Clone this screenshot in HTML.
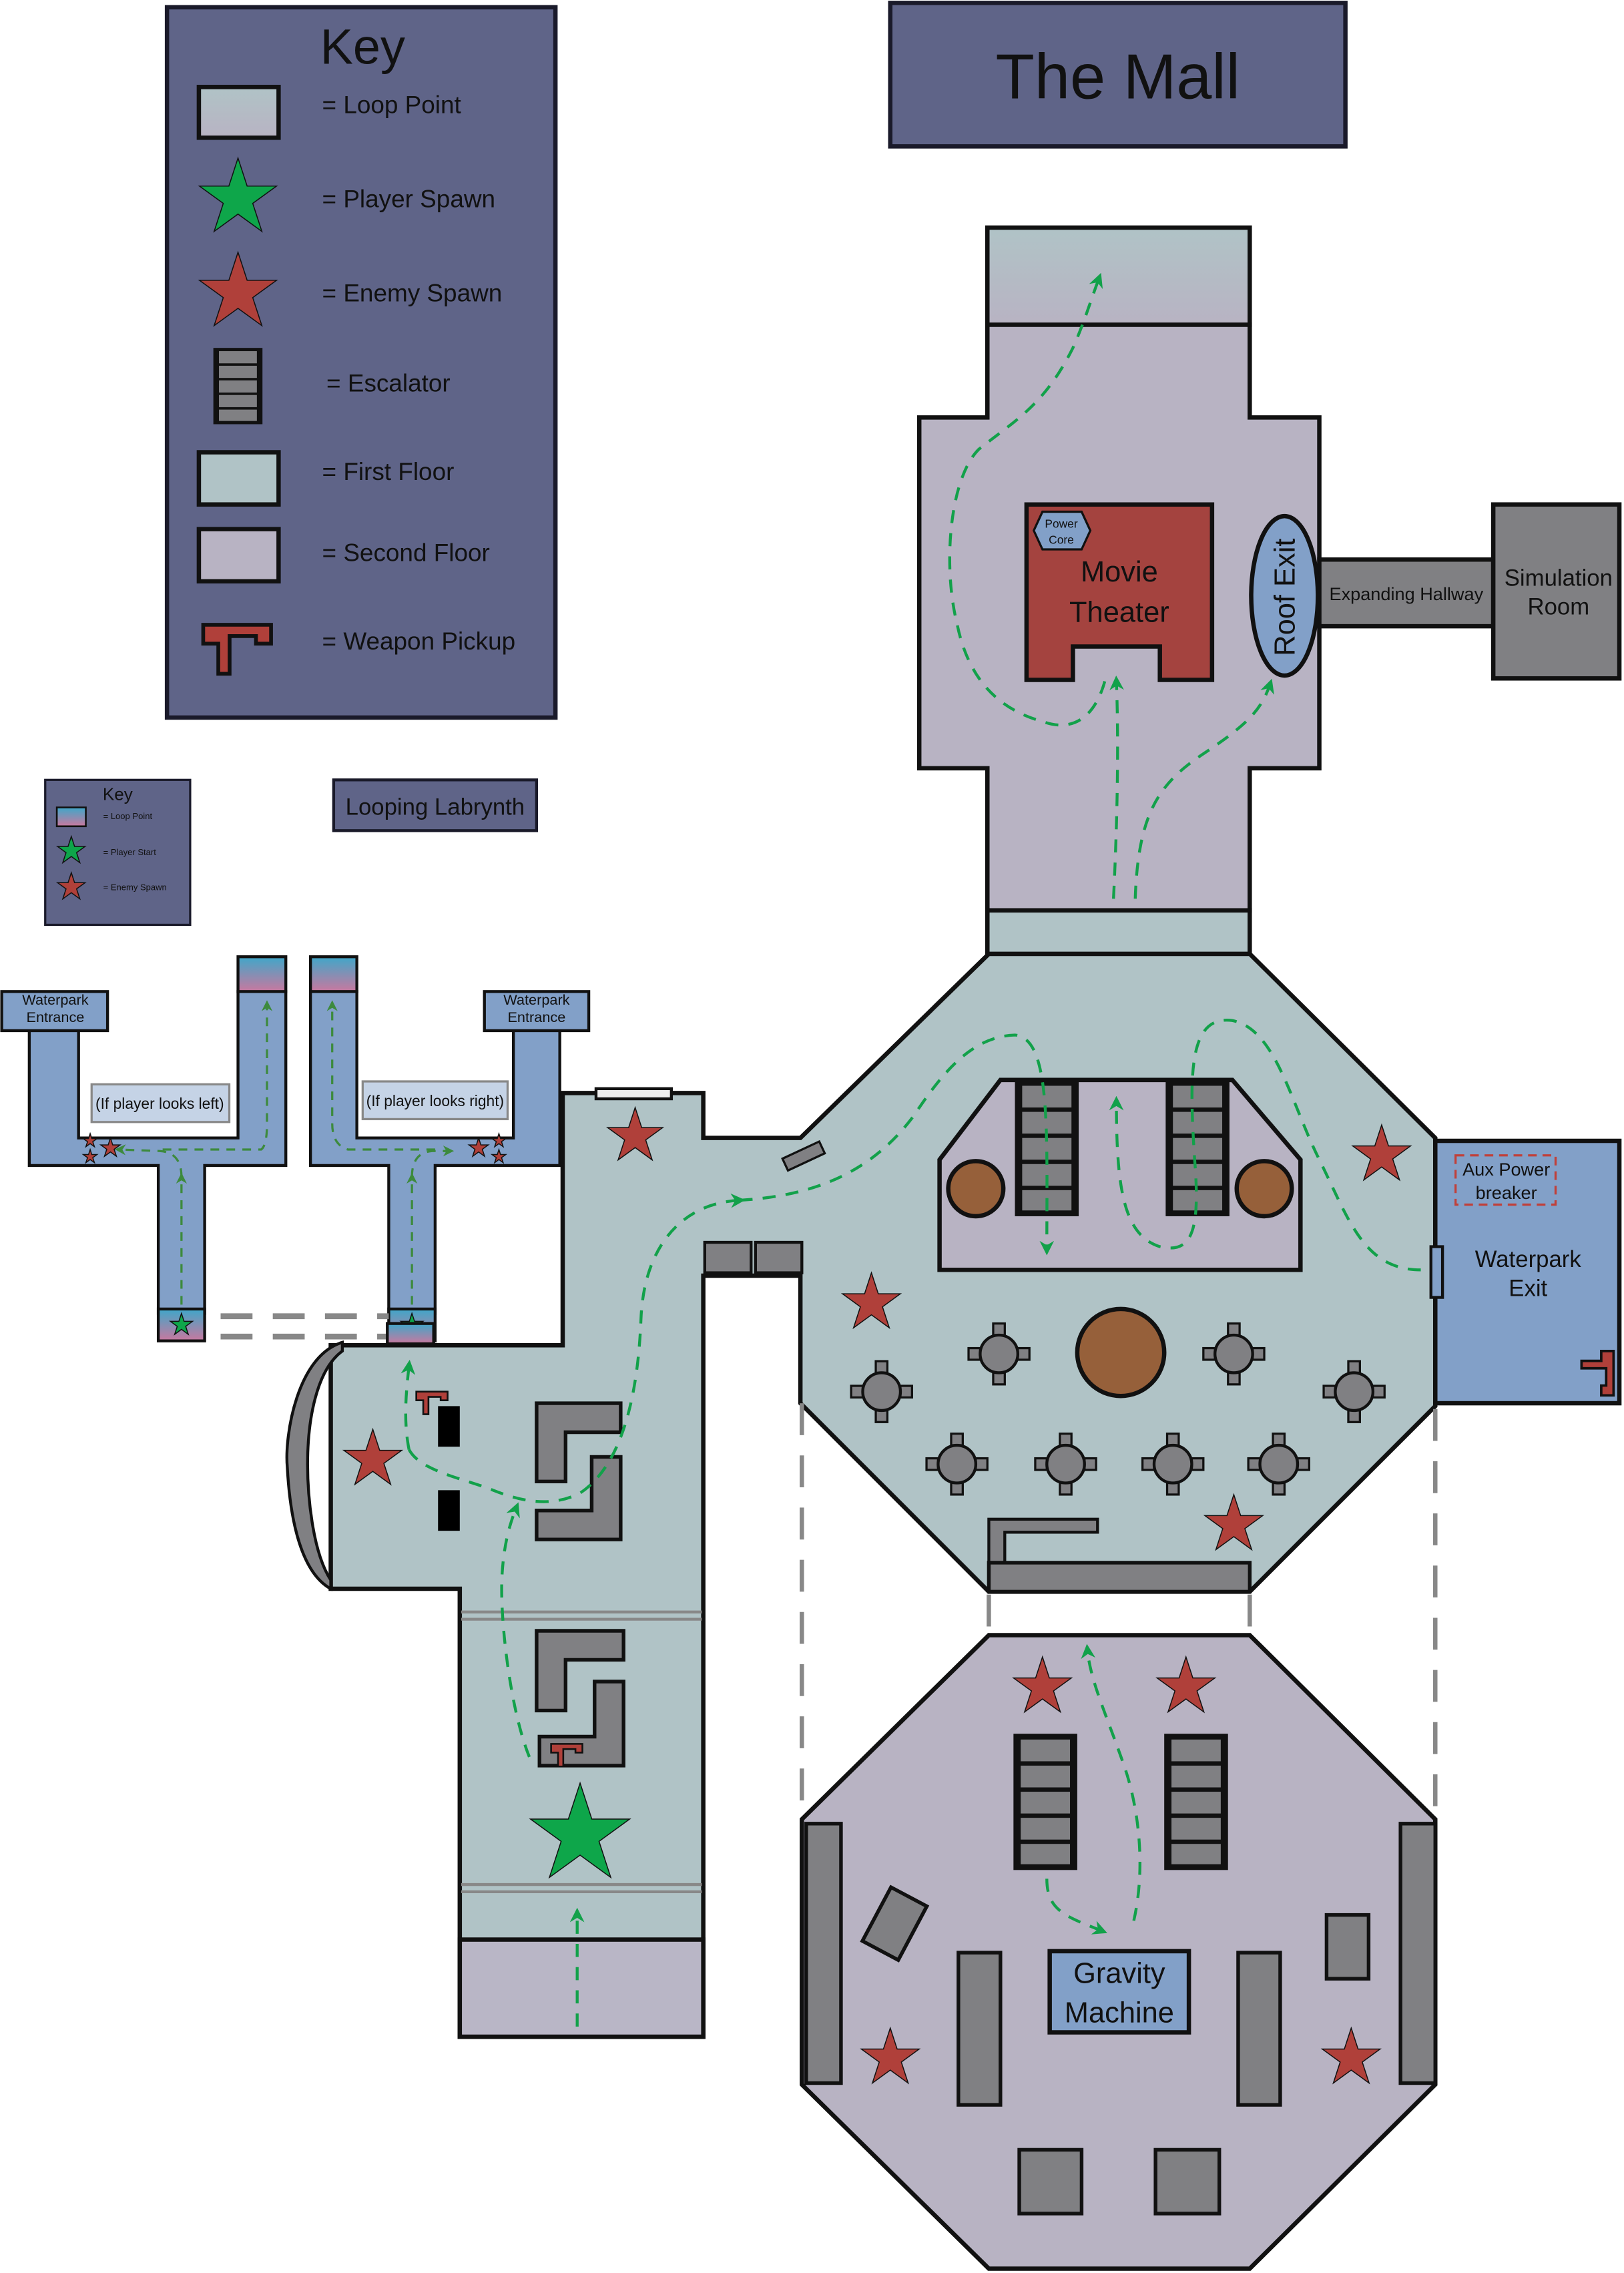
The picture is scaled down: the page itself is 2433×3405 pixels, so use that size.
<!DOCTYPE html>
<html><head><meta charset="utf-8"><style>html,body{margin:0;padding:0;background:#fff}svg{display:block}text{font-family:"Liberation Sans",sans-serif;fill:#111}</style></head><body>
<svg width="2433" height="3405" viewBox="0 0 1120 1568" xmlns="http://www.w3.org/2000/svg">
<defs>
<polygon id="st" points="0,-1 0.225,-0.309 0.951,-0.309 0.363,0.118 0.588,0.809 0,0.382 -0.588,0.809 -0.363,0.118 -0.951,-0.309 -0.225,-0.309" vector-effect="non-scaling-stroke" stroke="#111" stroke-width="1.5"/>
<linearGradient id="lp" x1="0" y1="0" x2="0" y2="1"><stop offset="0" stop-color="#3fa7c9"/><stop offset="1" stop-color="#c9789f"/></linearGradient>
<linearGradient id="lp2" x1="0" y1="0" x2="0" y2="1"><stop offset="0" stop-color="#b0c3c6"/><stop offset="1" stop-color="#b8b3c3"/></linearGradient>
<marker id="ar" viewBox="0 0 10 10" refX="6" refY="5" markerWidth="5" markerHeight="5" orient="auto"><path d="M0,0 L10,5 L0,10 L3,5 Z" fill="#12a14a"/></marker>
<marker id="ar2" viewBox="0 0 10 10" refX="6" refY="5" markerWidth="5" markerHeight="5" orient="auto"><path d="M0,0 L10,5 L0,10 L3,5 Z" fill="#3d8a3d"/></marker>
<g id="tb"><rect x="-21" y="-4" width="8" height="8" fill="#808083" stroke="#111" stroke-width="1.5"/><rect x="13" y="-4" width="8" height="8" fill="#808083" stroke="#111" stroke-width="1.5"/><rect x="-4" y="-21" width="8" height="8" fill="#808083" stroke="#111" stroke-width="1.5"/><rect x="-4" y="13" width="8" height="8" fill="#808083" stroke="#111" stroke-width="1.5"/><circle r="13" fill="#808083" stroke="#111" stroke-width="2"/></g>
<g id="es"><rect x="0" y="0" width="44" height="94" fill="#111"/><rect x="5" y="4" width="34" height="15" fill="#808083"/><rect x="5" y="22" width="34" height="15" fill="#808083"/><rect x="5" y="40" width="34" height="15" fill="#808083"/><rect x="5" y="58" width="34" height="15" fill="#808083"/><rect x="5" y="76" width="34" height="14" fill="#808083"/></g>
<path id="wp" d="M0,0 H36 V10 H28 V6 H14 V26 H8 V10 H0 Z" fill="#b0403a" stroke="#111" stroke-width="2"/>
</defs>
<g stroke="#1a1a2a" stroke-width="3">
<!-- Key -->
<rect x="115" y="5" width="268" height="490" fill="#5f6488"/>
<rect x="614" y="2" width="314" height="99" fill="#5f6488"/>
<rect x="31" y="538" width="100" height="100" fill="#5f6488" stroke-width="1.5"/>
<rect x="230" y="538" width="140" height="35" fill="#5f6488" stroke-width="2"/>
</g>
<text x="250" y="44" font-size="34" text-anchor="middle">Key</text>
<rect x="137" y="60" width="55" height="35" fill="url(#lp2)" stroke="#111" stroke-width="3"/>
<text x="222" y="78" font-size="17">= Loop Point</text>
<use href="#st" transform="translate(164,137) scale(28)" fill="#0ea64a"/>
<text x="222" y="143" font-size="17">= Player Spawn</text>
<use href="#st" transform="translate(164,202) scale(28)" fill="#b0403a"/>
<text x="222" y="208" font-size="17">= Enemy Spawn</text>
<g transform="translate(147,240) scale(0.77,0.56)"><use href="#es"/></g>
<text x="225" y="270" font-size="17">= Escalator</text>
<rect x="137" y="312" width="55" height="36" fill="#b0c3c6" stroke="#111" stroke-width="3"/>
<text x="222" y="331" font-size="17">= First Floor</text>
<rect x="137" y="365" width="55" height="36" fill="#b8b3c3" stroke="#111" stroke-width="3"/>
<text x="222" y="387" font-size="17">= Second Floor</text>
<g transform="translate(140,431) scale(1.3)"><use href="#wp"/></g>
<text x="222" y="448" font-size="17">= Weapon Pickup</text>
<text x="771" y="68" font-size="44" text-anchor="middle">The Mall</text>
<!-- small key -->
<text x="81" y="552" font-size="12" text-anchor="middle">Key</text>
<rect x="39" y="557" width="20" height="13" fill="url(#lp)" stroke="#111" stroke-width="1.2"/>
<text x="71" y="565" font-size="6" fill="#ddd">= Loop Point</text>
<use href="#st" transform="translate(49,587) scale(10)" fill="#0ea64a"/>
<text x="71" y="590" font-size="6">= Player Start</text>
<use href="#st" transform="translate(49,612) scale(10)" fill="#b0403a"/>
<text x="71" y="614" font-size="6">= Enemy Spawn</text>
<text x="300" y="562" font-size="16" text-anchor="middle">Looping Labrynth</text>
<!-- labyrinths -->
<g fill="#82a0c8" stroke="#111" stroke-width="2">
<polygon points="20,710 54,710 54,785 164,785 164,684 197,684 197,804 141,804 141,906 109,906 109,804 20,804"/>
<polygon points="214,684 246,684 246,785 354,785 354,710 386,710 386,804 300,804 300,906 268,906 268,804 214,804"/>
<rect x="1" y="684" width="73" height="27"/>
<rect x="334" y="684" width="72" height="27"/>
<rect x="164" y="660" width="33" height="24" fill="url(#lp)"/>
<rect x="214" y="660" width="32" height="24" fill="url(#lp)"/>
<rect x="109" y="903" width="32" height="22" fill="url(#lp)"/>
<rect x="268" y="903" width="32" height="22" fill="url(#lp)"/>
</g>
<rect x="63" y="748" width="95" height="26" fill="#c5d3e6" stroke="#888" stroke-width="1.5"/>
<rect x="250" y="746" width="100" height="26" fill="#c5d3e6" stroke="#888" stroke-width="1.5"/>
<text x="110" y="765" font-size="10.5" text-anchor="middle">(If player  looks left)</text>
<text x="300" y="763" font-size="10.5" text-anchor="middle">(If player  looks right)</text>
<text x="38" y="693" font-size="10" text-anchor="middle">Waterpark</text><text x="38" y="705" font-size="10" text-anchor="middle">Entrance</text>
<text x="370" y="693" font-size="10" text-anchor="middle">Waterpark</text><text x="370" y="705" font-size="10" text-anchor="middle">Entrance</text>
<use href="#st" transform="translate(62,787) scale(5)" fill="#b0403a"/><use href="#st" transform="translate(62,798) scale(5)" fill="#b0403a"/><use href="#st" transform="translate(76,792) scale(7)" fill="#b0403a"/>
<use href="#st" transform="translate(344,787) scale(5)" fill="#b0403a"/><use href="#st" transform="translate(344,798) scale(5)" fill="#b0403a"/><use href="#st" transform="translate(330,792) scale(7)" fill="#b0403a"/>
<use href="#st" transform="translate(125,914) scale(8)" fill="#0ea64a"/>
<use href="#st" transform="translate(284,914) scale(8)" fill="#0ea64a"/>
<g fill="none" stroke="#3d8a3d" stroke-width="1.5" stroke-dasharray="6,5">
<path d="M125,900 V812" marker-end="url(#ar2)"/>
<path d="M125,812 Q125,795 110,794 L82,793" marker-end="url(#ar2)"/>
<path d="M112,793 H180 Q184,790 184,775 V693" marker-end="url(#ar2)"/>
<path d="M284,900 V812" marker-end="url(#ar2)"/>
<path d="M284,812 Q284,795 298,794 L310,794" marker-end="url(#ar2)"/>
<path d="M300,793 H240 Q229,790 229,775 V693" marker-end="url(#ar2)"/>
</g>
<g stroke="#888" stroke-width="4" stroke-dasharray="22,14"><line x1="152" y1="908" x2="268" y2="908"/><line x1="152" y1="922" x2="268" y2="922"/></g>
<!-- first floor -->
<polygon points="388,754 485,754 485,785 552,785 682,658 862,658 990,785 990,970 862,1098 682,1098 552,968 552,880 485,880 485,1405 317,1405 317,1096 228,1096 228,928 388,928" fill="#b0c3c6" stroke="#111" stroke-width="3"/>
<rect x="317" y="1338" width="168" height="67" fill="#b9b6c6" stroke="#111" stroke-width="3"/>
<g stroke="#888" stroke-width="2"><line x1="318" y1="1112" x2="484" y2="1112"/><line x1="318" y1="1117" x2="484" y2="1117"/><line x1="318" y1="1300" x2="484" y2="1300"/><line x1="318" y1="1305" x2="484" y2="1305"/></g>
<rect x="411" y="751" width="52" height="7" fill="#eee" stroke="#111" stroke-width="2"/>
<rect x="267" y="913" width="32" height="14" fill="url(#lp)" stroke="#111" stroke-width="2"/>
<path d="M236,926 C205,935 196,990 198,1012 C200,1050 208,1085 228,1096 L228,1090 C215,1070 212,1030 212,1010 C212,980 218,945 236,932 Z" fill="#808083" stroke="#111" stroke-width="2"/>
<rect x="540" y="793" width="28" height="9" fill="#808083" stroke="#111" stroke-width="1.5" transform="rotate(-25 554 797)"/>
<rect x="486" y="857" width="32" height="21" fill="#808083" stroke="#111" stroke-width="2"/>
<rect x="521" y="857" width="32" height="21" fill="#808083" stroke="#111" stroke-width="2"/>
<use href="#st" transform="translate(438,784) scale(20)" fill="#b0403a"/>
<use href="#st" transform="translate(257,1007) scale(21)" fill="#b0403a"/>
<g transform="translate(287,960) scale(0.6)"><use href="#wp"/></g>
<rect x="302" y="970" width="15" height="28" fill="#000"/><rect x="302" y="1028" width="15" height="28" fill="#000"/>
<g fill="#808083" stroke="#111" stroke-width="2.5">
<polygon points="370,968 428,968 428,988 390,988 390,1022 370,1022"/>
<polygon points="408,1005 428,1005 428,1062 370,1062 370,1042 408,1042"/>
<polygon points="370,1125 430,1125 430,1145 390,1145 390,1180 370,1180"/>
<polygon points="410,1160 430,1160 430,1218 372,1218 372,1198 410,1198"/>
</g>
<g transform="translate(380,1203) scale(0.6)"><use href="#wp"/></g>
<use href="#st" transform="translate(400,1266) scale(36)" fill="#0ea64a"/>
<!-- mall center -->
<polygon points="648,800 690,745 850,745 897,800 897,876 648,876" fill="#b8b3c3" stroke="#111" stroke-width="3"/>
<use href="#es" x="700" y="745"/><use href="#es" x="804" y="745"/>
<g fill="#96603a" stroke="#111" stroke-width="3"><circle cx="673" cy="820" r="19"/><circle cx="872" cy="820" r="19"/><circle cx="773" cy="933" r="30"/><circle cx="673" cy="1267" r="19"/><circle cx="872" cy="1267" r="19"/></g>
<use href="#tb" x="608" y="960"/><use href="#tb" x="689" y="934"/><use href="#tb" x="851" y="934"/><use href="#tb" x="934" y="960"/>
<use href="#tb" x="660" y="1010"/><use href="#tb" x="735" y="1010"/><use href="#tb" x="809" y="1010"/><use href="#tb" x="882" y="1010"/>
<use href="#st" transform="translate(953,797) scale(21)" fill="#b0403a"/>
<use href="#st" transform="translate(601,899) scale(21)" fill="#b0403a"/>
<use href="#st" transform="translate(851,1052) scale(21)" fill="#b0403a"/>
<polygon points="682,1048 757,1048 757,1057 693,1057 693,1078 682,1078" fill="#808083" stroke="#111" stroke-width="2"/>
<rect x="682" y="1078" width="180" height="20" fill="#808083" stroke="#111" stroke-width="2.5"/>
<!-- waterpark exit -->
<rect x="990" y="787" width="127" height="181" fill="#82a0c8" stroke="#111" stroke-width="3"/>
<rect x="987" y="860" width="8" height="35" fill="#82a0c8" stroke="#111" stroke-width="2"/>
<rect x="1004" y="797" width="69" height="34" fill="none" stroke="#c0403a" stroke-width="1.5" stroke-dasharray="6,4"/>
<text x="1039" y="811" font-size="12.5" text-anchor="middle">Aux Power</text><text x="1039" y="827" font-size="12.5" text-anchor="middle">breaker</text>
<text x="1054" y="874" font-size="16" text-anchor="middle">Waterpark</text><text x="1054" y="894" font-size="16" text-anchor="middle">Exit</text>
<g transform="translate(1113,932) rotate(90) scale(0.85)"><use href="#wp"/></g>
<!-- theater -->
<polygon points="681,224 862,224 862,288 910,288 910,530 862,530 862,628 681,628 681,530 634,530 634,288 681,288" fill="#b8b3c3" stroke="#111" stroke-width="3"/>
<rect x="681" y="157" width="181" height="67" fill="url(#lp2)" stroke="#111" stroke-width="3"/>
<rect x="681" y="628" width="181" height="30" fill="#b0c3c6" stroke="#111" stroke-width="3"/>
<polygon points="708,348 836,348 836,469 800,469 800,446 740,446 740,469 708,469" fill="#a4433f" stroke="#111" stroke-width="3"/>
<polygon points="719,353 746,353 752,366 746,379 719,379 713,366" fill="#82a0c8" stroke="#111" stroke-width="1.5"/>
<text x="732" y="364" font-size="8" text-anchor="middle">Power</text><text x="732" y="375" font-size="8" text-anchor="middle">Core</text>
<text x="772" y="401" font-size="20" text-anchor="middle">Movie</text><text x="772" y="429" font-size="20" text-anchor="middle">Theater</text>
<rect x="910" y="386" width="120" height="46" fill="#808083" stroke="#111" stroke-width="3"/>
<rect x="1030" y="348" width="87" height="120" fill="#808083" stroke="#111" stroke-width="3"/>
<text x="970" y="414" font-size="12.5" text-anchor="middle">Expanding Hallway</text>
<text x="1075" y="404" font-size="16" text-anchor="middle">Simulation</text><text x="1075" y="424" font-size="16" text-anchor="middle">Room</text>
<ellipse cx="886" cy="411" rx="23" ry="55" fill="#82a0c8" stroke="#111" stroke-width="3"/>
<text x="0" y="0" font-size="20" text-anchor="middle" transform="translate(893,412) rotate(-90)">Roof Exit</text>
<!-- second floor -->
<polygon points="682,1128 862,1128 990,1255 990,1438 862,1565 682,1565 553,1438 553,1255" fill="#b8b3c3" stroke="#111" stroke-width="3"/>
<use href="#es" x="699" y="1196"/><use href="#es" x="803" y="1196"/>
<g fill="#808083" stroke="#111" stroke-width="2.5">
<rect x="556" y="1258" width="24" height="179"/><rect x="966" y="1258" width="24" height="179"/>
<rect x="603" y="1306" width="28" height="42" transform="rotate(28 617 1327)"/>
<rect x="915" y="1321" width="29" height="44"/>
<rect x="661" y="1347" width="29" height="105"/><rect x="854" y="1347" width="29" height="105"/>
<rect x="703" y="1483" width="43" height="44"/><rect x="797" y="1483" width="44" height="44"/>
</g>
<rect x="724" y="1346" width="96" height="56" fill="#82a0c8" stroke="#111" stroke-width="3"/>
<text x="772" y="1368" font-size="20" text-anchor="middle">Gravity</text><text x="772" y="1395" font-size="20" text-anchor="middle">Machine</text>
<use href="#st" transform="translate(719,1164) scale(21)" fill="#b0403a"/>
<use href="#st" transform="translate(818,1164) scale(21)" fill="#b0403a"/>
<use href="#st" transform="translate(614,1420) scale(21)" fill="#b0403a"/>
<use href="#st" transform="translate(932,1420) scale(21)" fill="#b0403a"/>
<g stroke="#888" stroke-width="3" stroke-dasharray="22,14" fill="none">
<line x1="553" y1="968" x2="553" y2="1255"/><line x1="990" y1="972" x2="990" y2="1255"/>
<line x1="682" y1="1100" x2="682" y2="1126"/><line x1="862" y1="1100" x2="862" y2="1126"/>
</g>
<!-- green dashed paths -->
<g fill="none" stroke="#12a14a" stroke-width="2" stroke-dasharray="9,7">
<path d="M398,1398 V1320" marker-end="url(#ar)"/>
<path d="M365,1212 C352,1180 345,1120 346,1090 C347,1065 352,1050 356,1040" marker-end="url(#ar)"/>
<path d="M282,1000 C290,1015 320,1020 340,1028 C360,1036 380,1040 400,1030 C430,1010 440,960 442,910 C444,860 470,830 510,828" marker-end="url(#ar)"/>
<path d="M282,1000 C278,980 280,960 282,942" marker-end="url(#ar)"/>
<path d="M510,828 C560,825 600,810 630,770 C650,740 670,715 700,714 C725,716 722,780 722,862" marker-end="url(#ar)"/>
<path d="M980,876 C940,876 930,840 910,800 C890,760 880,710 850,704 C820,700 820,740 824,800 C828,850 822,865 800,860 C775,852 770,820 770,760" marker-end="url(#ar)"/>
<path d="M768,620 C770,580 772,520 770,470" marker-end="url(#ar)"/>
<path d="M783,620 C785,560 800,540 830,520 C860,500 870,490 876,472" marker-end="url(#ar)"/>
<path d="M762,470 C755,495 740,505 720,498 C690,490 668,470 660,430 C650,390 655,330 675,310 C700,290 720,280 740,240 C748,222 752,208 758,192" marker-end="url(#ar)"/>
<path d="M722,1296 C722,1318 735,1322 760,1332" marker-end="url(#ar)"/>
<path d="M782,1325 C790,1290 786,1250 776,1220 C764,1185 752,1160 750,1138" marker-end="url(#ar)"/>
</g>
</svg>
</body></html>
